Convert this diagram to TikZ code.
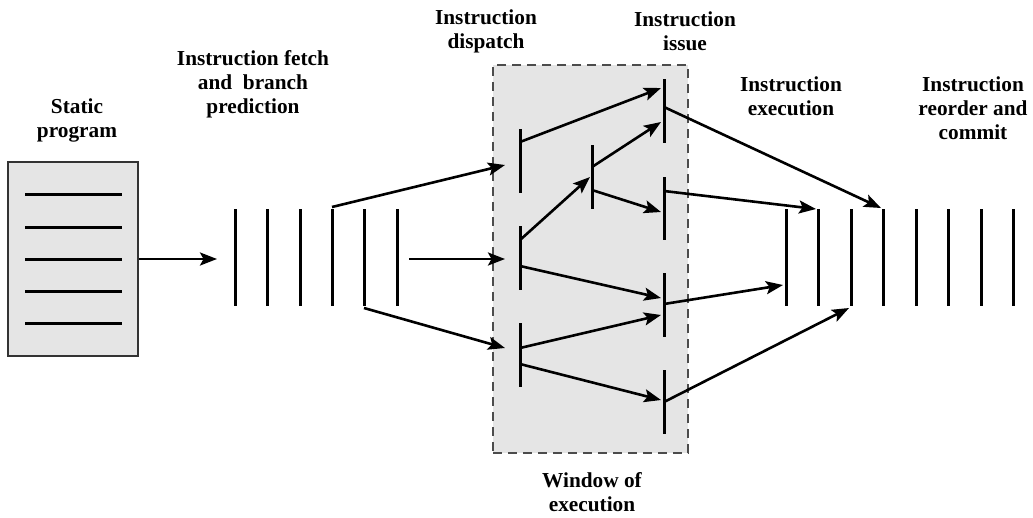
\documentclass[tikz,border=0pt]{standalone}
\usepackage{fontspec}
\setmainfont{Liberation Serif}
\usetikzlibrary{arrows.meta}
\begin{document}
\begin{tikzpicture}[x=1pt,y=-1pt,
  lbl/.style={font=\bfseries\fontsize{21.3}{24}\selectfont, align=center, inner sep=0pt},
  bar/.style={line width=3pt},
  arr/.style={line width=2.6pt, -{Stealth[length=17pt,width=13pt,inset=3.5pt]}},
  boxfill/.style={fill=black!10}
]
\useasboundingbox (0,0) rectangle (1033,517);
% static program box
\node[draw=black!80, boxfill, line width=1.6pt, minimum width=130pt, minimum height=194pt, inner sep=0pt] (prog) at (73,259) {};
\foreach \y [count=\i] in {194,227,259,291,323}
  \draw[bar] (25,\y) coordinate (pl\i a) -- (122,\y) coordinate (pl\i b);
% window of execution
\node[draw=black!70, dash pattern=on 9pt off 6pt, boxfill, line width=1.6pt, minimum width=195pt, minimum height=388pt, inner sep=0pt] (win) at (590.5,259) {};
% labels
\node[lbl] (tstatic) at (77,120.5) {Static\\program};
\node[lbl] (tfetch) at (253,84.5) {Instruction fetch\\and\ \ branch\\prediction};
\node[lbl] (tdisp) at (486,31.5) {Instruction\\dispatch};
\node[lbl] (tissue) at (685,31.5) {Instruction\\issue};
\node[lbl] (texec) at (791,96.5) {Instruction\\execution};
\node[lbl] (tcommit) at (973,108.5) {Instruction\\reorder and\\commit};
\node[lbl] (twin) at (592,492) {Window of\\execution};
% fetch bars
\foreach \x [count=\i] in {235,267,300,332,364,397}
  \draw[bar] (\x,209) coordinate (f\i t) -- (\x,306) coordinate (f\i b);
% execution / commit bars
\foreach \x [count=\i] in {786,818,851,883,916,948,981,1013}
  \draw[bar] (\x,209) coordinate (e\i t) -- (\x,306) coordinate (e\i b);
% dispatch bars
\draw[bar] (520,129) coordinate (d1t) -- (520,193) coordinate (d1b);
\draw[bar] (520,226) coordinate (d2t) -- (520,290) coordinate (d2b);
\draw[bar] (520,323) coordinate (d3t) -- (520,387) coordinate (d3b);
% middle bar
\draw[bar] (592,145) coordinate (mt) -- (592,209) coordinate (mb);
% issue bars
\draw[bar] (664,79) coordinate (i1t) -- (664,143) coordinate (i1b);
\draw[bar] (664,177) coordinate (i2t) -- (664,240) coordinate (i2b);
\draw[bar] (664,273) coordinate (i3t) -- (664,337) coordinate (i3b);
\draw[bar] (664,370) coordinate (i4t) -- (664,434) coordinate (i4b);
% arrow endpoints
\coordinate (a0) at (217,259);
\coordinate (s1) at (409,259);
\coordinate (a1) at (505,259);
\coordinate (f4s) at (332,207);
\coordinate (a2) at (505,165);
\coordinate (f5s) at (364,308);
\coordinate (a3) at (505,348);
\coordinate (d1s) at (520,142);
\coordinate (i1a) at (661,88);
\coordinate (d2s) at (520,240);
\coordinate (ma) at (590,177);
\coordinate (ms1) at (592,167);
\coordinate (i1a2) at (661,122);
\coordinate (ms2) at (592,190);
\coordinate (i2a) at (661,212);
\coordinate (d2s2) at (520,266);
\coordinate (i3a) at (661,298);
\coordinate (d3s) at (520,348);
\coordinate (i3a2) at (661,315);
\coordinate (d3s2) at (520,364);
\coordinate (i4a) at (661,400);
\coordinate (i1s) at (664,107);
\coordinate (e4a) at (881,208);
\coordinate (i2s) at (664,191);
\coordinate (e2a) at (816,209);
\coordinate (i3s) at (664,304);
\coordinate (e1a) at (783,285);
\coordinate (i4s) at (664,402);
\coordinate (e3a) at (849,308);
% arrows
\draw[arr] (prog.east) -- (a0);
\draw[arr] (s1) -- (a1);
\draw[arr] (f4s) -- (a2);
\draw[arr] (f5s) -- (a3);
\draw[arr] (d1s) -- (i1a);
\draw[arr] (d2s) -- (ma);
\draw[arr] (ms1) -- (i1a2);
\draw[arr] (ms2) -- (i2a);
\draw[arr] (d2s2) -- (i3a);
\draw[arr] (d3s) -- (i3a2);
\draw[arr] (d3s2) -- (i4a);
\draw[arr] (i1s) -- (e4a);
\draw[arr] (i2s) -- (e2a);
\draw[arr] (i3s) -- (e1a);
\draw[arr] (i4s) -- (e3a);
\end{tikzpicture}
\end{document}
